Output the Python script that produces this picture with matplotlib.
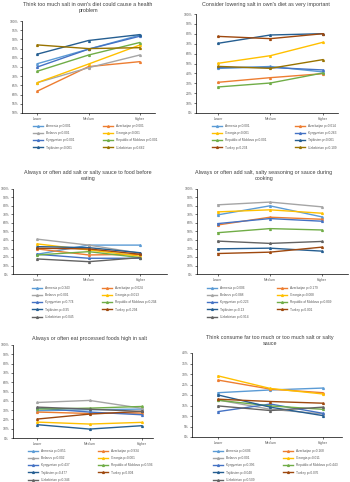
import matplotlib
matplotlib.use("Agg")
import matplotlib.pyplot as plt
from matplotlib.ticker import PercentFormatter

plt.rcParams['font.family'] = ['Liberation Sans', 'DejaVu Sans']

levels = ["Lower", "Medium", "Higher"]

# colours per country
col = {
    "Armenia": "#5B9BD5", "Azerbaijan": "#ED7D31", "Belarus": "#A5A5A5",
    "Georgia": "#FFC000", "Kyrgyzstan": "#4472C4", "Republic of Moldova": "#70AD47",
    "Tajikistan": "#255E91", "Turkey": "#9E480E", "Uzbekistan": "#636363",
}
uzb_gold = "#997300"

# panel 1
health_countries = ["Armenia", "Azerbaijan", "Belarus", "Georgia", "Kyrgyzstan",
                    "Republic of Moldova", "Tajikistan", "Uzbekistan"]
health_p = ["p<0.001", "p<0.001", "p<0.001", "p<0.001", "p<0.001", "p<0.001", "p<0.001", "p=0.662"]
health_vals = [[76.8, 84.7, 92.3], [61.9, 75.2, 77.9], [66.5, 74.6, 81.5], [66.5, 76.6, 86.9],
               [75.0, 84.7, 91.7], [72.7, 81.5, 88.3], [82.0, 89.4, 92.6], [87.0, 85.0, 85.5]]

# panel 2
lower_countries = ["Armenia", "Azerbaijan", "Georgia", "Kyrgyzstan", "Republic of Moldova",
                   "Tajikistan", "Turkey", "Uzbekistan"]
lower_p = ["p<0.001", "p=0.014", "p<0.001", "p=0.263", "p<0.001", "p<0.001", "p=0.234", "p=0.109"]
lower_vals = [[45.0, 47.0, 41.5], [31.0, 35.7, 39.7], [50.2, 57.9, 71.4], [46.0, 46.0, 43.5],
              [26.3, 30.3, 40.4], [70.4, 78.8, 80.1], [77.4, 75.1, 80.1], [47.1, 45.1, 53.9]]

nine = ["Armenia", "Azerbaijan", "Belarus", "Georgia", "Kyrgyzstan",
        "Republic of Moldova", "Tajikistan", "Turkey", "Uzbekistan"]

# panel 3
table_p = ["p=0.343", "p=0.024", "p<0.001", "p=0.013", "p=0.774", "p=0.204", "p=0.95", "p=0.294", "p=0.045"]
table_vals = [[23.2, 34.0, 34.0], [29.5, 22.4, 23.2], [41.0, 34.0, 24.4], [35.4, 28.3, 21.0],
              [23.2, 18.5, 18.5], [22.4, 26.3, 19.3], [32.2, 31.0, 25.0], [30.3, 29.5, 23.2],
              [17.7, 14.5, 19.3]]

# panel 4
cook_p = ["p=0.006", "p=0.179", "p=0.088", "p=0.008", "p=0.223", "p=0.809", "p=0.13", "p=0.001", "p=0.914"]
cook_vals = [[69.6, 80.2, 67.2], [57.7, 66.8, 64.4], [81.4, 84.6, 79.0], [73.1, 75.5, 71.5],
             [59.3, 65.2, 62.1], [48.6, 53.4, 51.8], [29.6, 30.4, 26.9], [24.1, 25.7, 31.6],
             [38.7, 36.0, 38.3]]

# panel 5
proc_p = ["p=0.851", "p=0.934", "p=0.002", "p=0.001", "p=0.437", "p=0.596", "p=0.477", "p=0.004", "p=0.346"]
proc_vals = [[29.3, 30.4, 31.1], [27.9, 26.4, 26.8], [38.2, 40.4, 32.0], [17.1, 15.0, 16.8],
             [32.1, 27.9, 25.0], [31.1, 32.1, 33.9], [14.3, 9.6, 13.2], [20.4, 25.7, 28.6],
             [33.2, 31.0, 28.6]]

# panel 6
much_p = ["p=0.606", "p=0.168", "p<0.001", "p=0.011", "p=0.396", "p=0.443", "p=0.048", "p=0.076", "p=0.509"]
much_vals = [[21.1, 22.4, 23.3], [27.1, 22.8, 21.1], [17.6, 13.2, 11.0], [29.1, 23.1, 20.5],
             [12.1, 15.7, 11.3], [17.5, 14.8, 13.2], [20.0, 14.2, 10.2], [18.0, 16.9, 16.1],
             [14.8, 12.6, 14.2]]

W, H = 350, 482
fig = plt.figure(figsize=(W / 100, H / 100), dpi=100)

txt = "#595959"


def px_axes(l, t, r, b):
    return fig.add_axes([l / W, 1 - b / H, (r - l) / W, (b - t) / H])


def panel(box, title, tpos, countries, pvals, vals, ylim, ystep, xlim, leg_xy, uzb_col):
    ax = px_axes(*box)
    lines = []
    for c, p, v in zip(countries, pvals, vals):
        color = uzb_col if c == "Uzbekistan" else col[c]
        ln, = ax.plot(range(3), v, color=color, lw=1.0, marker="^", ms=1.3,
                      label=c + " " + p)
        lines.append(ln)
    ax.set_xlim(*xlim)
    ax.set_ylim(*ylim)
    ax.set_yticks(range(ylim[0], ylim[1] + 1, ystep))
    ax.yaxis.set_major_formatter(PercentFormatter(decimals=0))
    ax.set_xticks(range(3))
    ax.set_xticklabels(levels)
    ax.tick_params(labelsize=2.4, length=1.2, width=0.4, pad=1.5,
                   colors="black", labelcolor=txt)
    for s in ["top", "right"]:
        ax.spines[s].set_visible(False)
    for s in ["left", "bottom"]:
        ax.spines[s].set_linewidth(0.5)
    fig.text(tpos[0] / W, 1 - tpos[1] / H, title, ha="center", va="top",
             fontsize=3.9, color="#404040", linespacing=1.2)
    # legend reads row by row in the reference
    order = lines[0::2] + lines[1::2]
    ax.legend(handles=order, ncol=2, loc="upper left",
              bbox_to_anchor=(leg_xy[0] / W, 1 - leg_xy[1] / H),
              bbox_transform=fig.transFigure, frameon=False, fontsize=2.3,
              labelcolor=txt, handlelength=3.2, handletextpad=0.8,
              columnspacing=9, labelspacing=1.0, borderpad=0, borderaxespad=0)
    return ax


panel((22, 21, 155, 113), "Think too much salt in own's diet could cause a health\nproblem",
      (88, 2), health_countries, health_p, health_vals, (50, 100), 5, (-0.3, 2.3),
      (33, 124), uzb_gold)
panel((196, 14, 338, 113), "Consider lowering salt in own's diet as very important",
      (266, 2), lower_countries, lower_p, lower_vals, (0, 100), 10, (-0.42, 2.29),
      (212, 124), uzb_gold)
panel((13, 189, 167, 274), "Always or often add salt or salty sauce to food before\neating",
      (88, 170), nine, table_p, table_vals, (0, 100), 10, (-0.47, 2.52),
      (32, 286), col["Uzbekistan"])
panel((197, 189, 348, 274), "Always or often add salt, salty seasoning or sauce during\ncooking",
      (264, 170), nine, cook_p, cook_vals, (0, 100), 10, (-0.4, 2.5),
      (207, 286), col["Uzbekistan"])
panel((13, 345, 153, 438), "Always or often eat processed foods high in salt",
      (90, 336), nine, proc_p, proc_vals, (0, 100), 10, (-0.47, 2.22),
      (28, 449), col["Uzbekistan"])
panel((192, 353, 342, 437), "Think consume far too much or too much salt or salty\nsauce",
      (270, 335), nine, much_p, much_vals, (0, 40), 5, (-0.5, 2.37),
      (213, 449), col["Uzbekistan"])

fig.savefig("out.png", dpi=100, facecolor="white")
